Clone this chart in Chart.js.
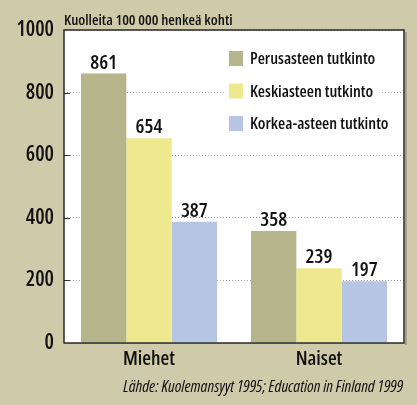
<!DOCTYPE html>
<html>
<head>
<meta charset="utf-8">
<script src="https://cdn.jsdelivr.net/npm/chart.js@4"></script>
<style>
  html, body { margin: 0; padding: 0; background: #cfcaa9; }
  #wrap { width: 417px; height: 405px; position: relative; }
</style>
</head>
<body>
<div id="wrap"><canvas id="chart" width="417" height="405"></canvas></div>
<script>
const categories = ['Miehet', 'Naiset'];
const seriesNames = ['Perusasteen tutkinto', 'Keskiasteen tutkinto', 'Korkea-asteen tutkinto'];
const perusaste = [861, 358];
const keskiaste = [654, 239];
const korkeaaste = [387, 197];
const yTicks = [0, 200, 400, 600, 800, 1000];

const colors = ['#b5b48a', '#eee98e', '#b7c5e4'];
const FONT = "'Open Sans', sans-serif";

const decorPlugin = {
    id: 'decor',
    beforeDraw(chart) {
        const { ctx, chartArea: a } = chart;
        ctx.save();
        ctx.fillStyle = '#ffffff';
        ctx.fillRect(a.left, a.top, a.right - a.left, a.bottom - a.top);
        ctx.restore();
    },
    afterDatasetsDraw(chart) {
        const { ctx, chartArea: a } = chart;
        const y = chart.scales.y;
        ctx.save();

        // value labels
        ctx.font = '600 condensed 20px ' + FONT;
        ctx.fillStyle = '#111';
        ctx.textAlign = 'center';
        ctx.textBaseline = 'alphabetic';
        chart.data.datasets.forEach((ds, i) => {
            chart.getDatasetMeta(i).data.forEach((bar, j) => {
                ctx.fillText(String(ds.data[j]), bar.x, bar.y - 5);
            });
        });

        // inner tick marks
        ctx.strokeStyle = '#333';
        ctx.lineWidth = 1;
        yTicks.slice(1, -1).forEach(v => {
            const py = Math.round(y.getPixelForValue(v)) + 0.5;
            ctx.beginPath();
            ctx.moveTo(a.left, py);
            ctx.lineTo(a.left + 6, py);
            ctx.stroke();
        });

        // legend
        ctx.fillStyle = '#ffffff';
        ctx.fillRect(224, 44, 158, 92);
        ctx.font = '600 condensed 16.5px ' + FONT;
        ctx.textAlign = 'left';
        ctx.textBaseline = 'middle';
        seriesNames.forEach((name, i) => {
            const cy = 58.5 + i * 32.5;
            ctx.fillStyle = colors[i];
            ctx.fillRect(229, cy - 7.5, 14, 15);
            ctx.fillStyle = '#111';
            ctx.fillText(name, 250, cy + 1);
        });

        // frame
        ctx.strokeStyle = '#2a2a2a';
        ctx.lineWidth = 1.5;
        ctx.strokeRect(a.left, a.top, a.right - a.left, a.bottom - a.top);
        ctx.fillStyle = 'rgba(90,90,80,0.35)';
        ctx.fillRect(a.right + 1, a.top + 2, 2, a.bottom - a.top);

        // axis title and source
        ctx.fillStyle = '#111';
        ctx.font = '600 condensed 15px ' + FONT;
        ctx.textAlign = 'left';
        ctx.textBaseline = 'alphabetic';
        ctx.fillText('Kuolleita 100 000 henkeä kohti', 64, 25);
        ctx.font = 'italic 500 condensed 16.5px ' + FONT;
        ctx.textAlign = 'right';
        ctx.fillText('Lähde: Kuolemansyyt 1995; Education in Finland 1999', 403, 392);
        ctx.restore();
    }
};

new Chart(document.getElementById('chart'), {
    type: 'bar',
    data: {
        labels: categories,
        datasets: [
            { label: seriesNames[0], data: perusaste, backgroundColor: colors[0] },
            { label: seriesNames[1], data: keskiaste, backgroundColor: colors[1] },
            { label: seriesNames[2], data: korkeaaste, backgroundColor: colors[2] },
        ],
    },
    options: {
        responsive: false,
        animation: false,
        layout: { padding: { top: 30, right: 13, left: 0, bottom: 0 } },
        datasets: { bar: { categoryPercentage: 0.8, barPercentage: 1.0 } },
        plugins: { legend: { display: false }, tooltip: { enabled: false } },
        scales: {
            x: {
                grid: { display: false, drawTicks: false },
                border: { display: false },
                ticks: { color: '#111', font: { family: FONT, size: 20, weight: '600 condensed' }, padding: 4 },
                afterFit(scale) { scale.height = 62; },
            },
            y: {
                min: 0,
                max: 1000,
                afterBuildTicks(scale) { scale.ticks = yTicks.map(v => ({ value: v })); },
                grid: { color: '#9a9a9a', drawTicks: false, lineWidth: 1 },
                border: { display: false, dash: [1, 2] },
                ticks: {
                    color: '#111',
                    font: { family: FONT, size: 21, weight: '600 condensed' },
                    padding: 10,
                    callback: v => String(v),
                },
                afterFit(scale) { scale.width = 64; },
            },
        },
    },
    plugins: [decorPlugin],
});
</script>
</body>
</html>
